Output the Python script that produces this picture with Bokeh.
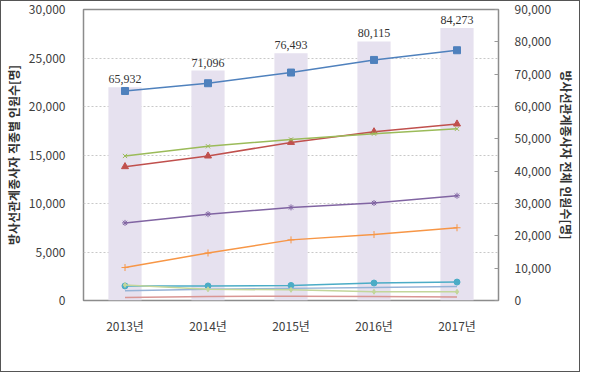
from bokeh.plotting import figure
from bokeh.models import (ColumnDataSource, FactorRange, Range1d, LinearAxis, Legend,
                          LegendItem, LabelSet, NumeralTickFormatter, SingleIntervalTicker)
from bokeh.embed import file_html
from bokeh.resources import INLINE

years = ["2013년", "2014년", "2015년", "2016년", "2017년"]
total = [65932, 71096, 76493, 80115, 84273]
total_labels = ["65,932", "71,096", "76,493", "80,115", "84,273"]

radiographer = [21600, 22400, 23500, 24800, 25800]   # 방사선사
doctor = [13800, 14900, 16300, 17400, 18200]         # 의사
dentist = [14900, 15900, 16600, 17200, 17700]        # 치과의사
dental_hyg = [8000, 8900, 9600, 10050, 10800]        # 치과위생사
radiologist = [1500, 1500, 1550, 1800, 1900]         # 영상의학과전문의
nurse = [3400, 4900, 6250, 6800, 7500]               # 간호사
nurse_aide = [1000, 1150, 1250, 1350, 1450]          # 간호조무사
assistant = [300, 400, 450, 400, 350]                # 업무보조원
other = [1600, 1150, 1100, 900, 900]                 # 기타

FONT = "Noto Sans CJK KR"

p = figure(x_range=FactorRange(*years), y_range=Range1d(0, 30000),
           frame_width=415, frame_height=291,
           min_border_left=82, min_border_right=81, min_border_top=8, min_border_bottom=71,
           output_backend="svg", toolbar_location=None)
p.extra_y_ranges = {"total": Range1d(0, 90000)}
p.styles = {"border": "1px solid #555555"}

src = ColumnDataSource(dict(x=years, top=total, lab=total_labels))
bars = p.vbar(x="x", top="top", width=0.4, source=src, y_range_name="total",
              fill_color="#e6e1ef", line_color=None)
p.add_layout(LabelSet(x="x", y="top", text="lab", source=src, y_range_name="total",
                      text_align="center", text_baseline="bottom", y_offset=4,
                      text_font=FONT, text_font_size="12px", text_color="#333333"))

series = [
    ("방사선사", radiographer, "#4f81bd", "square", 7),
    ("의사", doctor, "#c0504d", "triangle", 7),
    ("치과의사", dentist, "#9bbb59", "x", 6),
    ("치과위생사", dental_hyg, "#8064a2", "asterisk", 6),
    ("영상의학과전문의", radiologist, "#4bacc6", "circle", 6),
    ("간호사", nurse, "#f79646", "cross", 7),
    ("간호조무사", nurse_aide, "#95b3d7", None, 0),
    ("업무보조원", assistant, "#d99694", None, 0),
    ("기타", other, "#c3d69b", "diamond", 5),
]

items = [LegendItem(label="전체", renderers=[bars])]
for name, vals, col, mk, sz in series:
    r = [p.line(years, vals, line_color=col, line_width=1.5)]
    if mk:
        r.append(p.scatter(years, vals, marker=mk, size=sz, fill_color=col, line_color=col))
    items.append(LegendItem(label=name, renderers=r))

# axes
yl = p.yaxis[0]
yl.ticker = SingleIntervalTicker(interval=5000)
yl.formatter = NumeralTickFormatter(format="0,0")
yl.axis_label = "방사선관계종사자 직종별 인원수[명]"
yr = LinearAxis(y_range_name="total", ticker=SingleIntervalTicker(interval=10000),
                formatter=NumeralTickFormatter(format="0,0"),
                axis_label="방사선관계종사자 전체 인원수[명]")
p.add_layout(yr, "right")

for ax in [yl, yr, p.xaxis[0]]:
    ax.axis_line_color = None
    ax.major_tick_line_color = None
    ax.minor_tick_line_color = None
    ax.major_label_text_font = FONT
    ax.major_label_text_font_size = "12px"
    ax.major_label_text_color = "#404040"
    ax.axis_label_text_font = FONT
    ax.axis_label_text_font_size = "12px"
    ax.axis_label_text_font_style = "bold"
    ax.axis_label_text_color = "#333333"
yl.major_label_standoff = 12
yr.major_label_standoff = 12
yr.major_tick_line_color = "#999999"
yr.major_tick_in = 4
yr.major_tick_out = 0
yl.axis_label_standoff = 4
yr.axis_label_standoff = 4
p.xaxis[0].major_label_standoff = 10

p.xgrid.grid_line_color = None
p.ygrid.grid_line_color = "#c8c8c8"
p.ygrid.grid_line_dash = "2 2"
p.outline_line_color = "#8c8c8c"
p.outline_line_width = 1.5

def mk_legend(its, loc):
    lg = Legend(items=its, orientation="horizontal", location=loc,
                glyph_width=17, glyph_height=12, label_standoff=3, label_width=90,
                spacing=0, padding=0, margin=0, background_fill_alpha=0,
                border_line_color=None, label_text_font=FONT,
                label_text_font_size="12px", label_text_color="#404040",
                label_height=16)
    return lg

p.add_layout(mk_legend(items[:5], (-57, -47)))
p.add_layout(mk_legend(items[5:], (-57, -66)))

open("out.html", "w").write(file_html(p, INLINE))
